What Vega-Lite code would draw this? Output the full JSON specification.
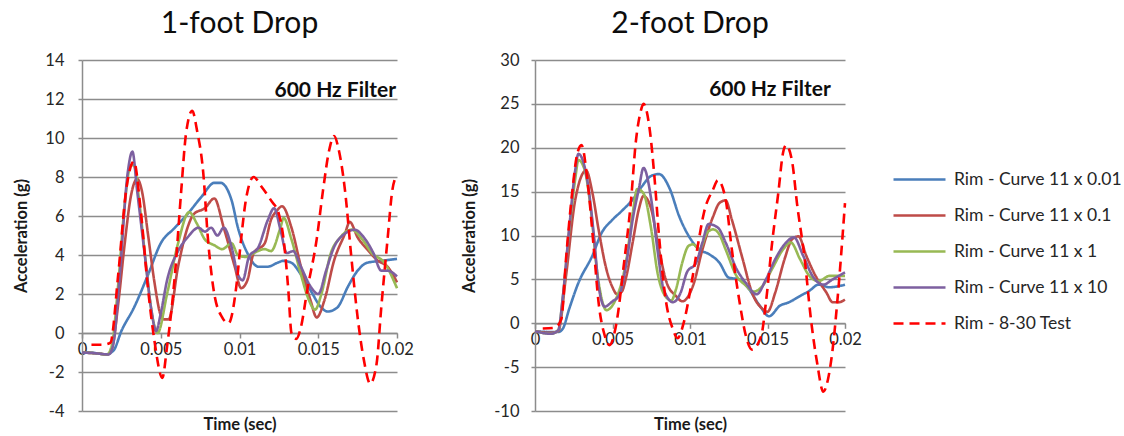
{
  "$schema": "https://vega.github.io/schema/vega-lite/v6.json",
  "background": "white",
  "padding": {"left": 13, "top": 9, "right": 0, "bottom": 0},
  "datasets": {
    "names": [
      {"k": "a", "series": "Rim - Curve 11 x 0.01"},
      {"k": "b", "series": "Rim - Curve 11 x 0.1"},
      {"k": "c", "series": "Rim - Curve 11 x 1"},
      {"k": "d", "series": "Rim - Curve 11 x 10"},
      {"k": "e", "series": "Rim - 8-30 Test"}
    ],
    "curves": [
      {"d":1,"k":"a","t":0,"g":-1.0},{"d":1,"k":"a","t":0.0005,"g":-1.0},{"d":1,"k":"a","t":0.001,"g":-1.05},{"d":1,"k":"a","t":0.0015,"g":-1.1},{"d":1,"k":"a","t":0.002,"g":-0.9},{"d":1,"k":"a","t":0.0025,"g":0.1},{"d":1,"k":"a","t":0.0033,"g":1.3},{"d":1,"k":"a","t":0.0042,"g":3.0},{"d":1,"k":"a","t":0.005,"g":4.6},{"d":1,"k":"a","t":0.0059,"g":5.4},{"d":1,"k":"a","t":0.0067,"g":6.1},{"d":1,"k":"a","t":0.0076,"g":7.0},{"d":1,"k":"a","t":0.0084,"g":7.7},{"d":1,"k":"a","t":0.0088,"g":7.7},{"d":1,"k":"a","t":0.0095,"g":6.8},{"d":1,"k":"a","t":0.0099,"g":5.4},{"d":1,"k":"a","t":0.0105,"g":4.1},{"d":1,"k":"a","t":0.0112,"g":3.4},{"d":1,"k":"a","t":0.0118,"g":3.4},{"d":1,"k":"a","t":0.0124,"g":3.6},{"d":1,"k":"a","t":0.0128,"g":3.7},{"d":1,"k":"a","t":0.0133,"g":3.6},{"d":1,"k":"a","t":0.0139,"g":3.0},{"d":1,"k":"a","t":0.0145,"g":2.2},{"d":1,"k":"a","t":0.0152,"g":1.3},{"d":1,"k":"a","t":0.0156,"g":1.1},{"d":1,"k":"a","t":0.0162,"g":1.3},{"d":1,"k":"a","t":0.0169,"g":2.4},{"d":1,"k":"a","t":0.0175,"g":3.2},{"d":1,"k":"a","t":0.0181,"g":3.6},{"d":1,"k":"a","t":0.019,"g":3.7},{"d":1,"k":"a","t":0.02,"g":3.8},

      {"d":1,"k":"b","t":0,"g":-1.0},{"d":1,"k":"b","t":0.001,"g":-1.05},{"d":1,"k":"b","t":0.0016,"g":-1.1},{"d":1,"k":"b","t":0.0019,"g":-0.8},{"d":1,"k":"b","t":0.0023,"g":1.5},{"d":1,"k":"b","t":0.0027,"g":4.5},{"d":1,"k":"b","t":0.0031,"g":7.0},{"d":1,"k":"b","t":0.0035,"g":7.9},{"d":1,"k":"b","t":0.0038,"g":7.3},{"d":1,"k":"b","t":0.0042,"g":5.0},{"d":1,"k":"b","t":0.0046,"g":2.6},{"d":1,"k":"b","t":0.005,"g":0.9},{"d":1,"k":"b","t":0.0052,"g":0.7},{"d":1,"k":"b","t":0.0055,"g":0.7},{"d":1,"k":"b","t":0.0061,"g":3.4},{"d":1,"k":"b","t":0.0067,"g":5.4},{"d":1,"k":"b","t":0.0071,"g":6.1},{"d":1,"k":"b","t":0.0078,"g":6.4},{"d":1,"k":"b","t":0.0084,"g":6.9},{"d":1,"k":"b","t":0.009,"g":5.4},{"d":1,"k":"b","t":0.0097,"g":3.4},{"d":1,"k":"b","t":0.0101,"g":2.3},{"d":1,"k":"b","t":0.0105,"g":2.7},{"d":1,"k":"b","t":0.0109,"g":4.1},{"d":1,"k":"b","t":0.0116,"g":4.6},{"d":1,"k":"b","t":0.012,"g":5.8},{"d":1,"k":"b","t":0.0124,"g":6.3},{"d":1,"k":"b","t":0.0127,"g":6.5},{"d":1,"k":"b","t":0.0133,"g":5.4},{"d":1,"k":"b","t":0.0139,"g":3.4},{"d":1,"k":"b","t":0.0145,"g":1.7},{"d":1,"k":"b","t":0.0149,"g":0.8},{"d":1,"k":"b","t":0.0154,"g":1.7},{"d":1,"k":"b","t":0.016,"g":3.7},{"d":1,"k":"b","t":0.0167,"g":5.1},{"d":1,"k":"b","t":0.017,"g":5.7},{"d":1,"k":"b","t":0.0175,"g":4.9},{"d":1,"k":"b","t":0.0181,"g":4.3},{"d":1,"k":"b","t":0.0188,"g":3.7},{"d":1,"k":"b","t":0.0194,"g":3.4},{"d":1,"k":"b","t":0.02,"g":2.6},

      {"d":1,"k":"c","t":0,"g":-1.0},{"d":1,"k":"c","t":0.001,"g":-1.05},{"d":1,"k":"c","t":0.0016,"g":-1.1},{"d":1,"k":"c","t":0.0019,"g":-0.6},{"d":1,"k":"c","t":0.0023,"g":2.5},{"d":1,"k":"c","t":0.0027,"g":6.5},{"d":1,"k":"c","t":0.0031,"g":8.6},{"d":1,"k":"c","t":0.0033,"g":8.6},{"d":1,"k":"c","t":0.0036,"g":7.0},{"d":1,"k":"c","t":0.004,"g":4.0},{"d":1,"k":"c","t":0.0044,"g":1.2},{"d":1,"k":"c","t":0.0048,"g":0.0},{"d":1,"k":"c","t":0.0054,"g":2.0},{"d":1,"k":"c","t":0.0061,"g":4.6},{"d":1,"k":"c","t":0.0068,"g":6.2},{"d":1,"k":"c","t":0.0073,"g":5.6},{"d":1,"k":"c","t":0.0078,"g":4.8},{"d":1,"k":"c","t":0.0084,"g":4.5},{"d":1,"k":"c","t":0.0089,"g":4.3},{"d":1,"k":"c","t":0.0095,"g":4.6},{"d":1,"k":"c","t":0.0099,"g":4.0},{"d":1,"k":"c","t":0.0104,"g":3.9},{"d":1,"k":"c","t":0.0109,"g":4.1},{"d":1,"k":"c","t":0.0116,"g":4.3},{"d":1,"k":"c","t":0.012,"g":4.2},{"d":1,"k":"c","t":0.0126,"g":5.4},{"d":1,"k":"c","t":0.0128,"g":5.9},{"d":1,"k":"c","t":0.0133,"g":4.8},{"d":1,"k":"c","t":0.0139,"g":3.0},{"d":1,"k":"c","t":0.0144,"g":1.7},{"d":1,"k":"c","t":0.0148,"g":1.2},{"d":1,"k":"c","t":0.0152,"g":2.0},{"d":1,"k":"c","t":0.0158,"g":4.1},{"d":1,"k":"c","t":0.0164,"g":4.9},{"d":1,"k":"c","t":0.0171,"g":5.3},{"d":1,"k":"c","t":0.0178,"g":4.8},{"d":1,"k":"c","t":0.0184,"g":4.1},{"d":1,"k":"c","t":0.0192,"g":3.6},{"d":1,"k":"c","t":0.02,"g":2.3},

      {"d":1,"k":"d","t":0,"g":-1.0},{"d":1,"k":"d","t":0.001,"g":-1.05},{"d":1,"k":"d","t":0.0017,"g":-1.1},{"d":1,"k":"d","t":0.002,"g":-0.5},{"d":1,"k":"d","t":0.0024,"g":3.0},{"d":1,"k":"d","t":0.0029,"g":8.2},{"d":1,"k":"d","t":0.0032,"g":9.3},{"d":1,"k":"d","t":0.0035,"g":7.3},{"d":1,"k":"d","t":0.004,"g":3.9},{"d":1,"k":"d","t":0.0044,"g":1.2},{"d":1,"k":"d","t":0.0047,"g":0.1},{"d":1,"k":"d","t":0.005,"g":1.0},{"d":1,"k":"d","t":0.0054,"g":2.7},{"d":1,"k":"d","t":0.0061,"g":4.2},{"d":1,"k":"d","t":0.0067,"g":4.9},{"d":1,"k":"d","t":0.0074,"g":5.4},{"d":1,"k":"d","t":0.0078,"g":5.2},{"d":1,"k":"d","t":0.0082,"g":5.4},{"d":1,"k":"d","t":0.0086,"g":5.0},{"d":1,"k":"d","t":0.009,"g":5.4},{"d":1,"k":"d","t":0.0095,"g":4.4},{"d":1,"k":"d","t":0.0099,"g":3.0},{"d":1,"k":"d","t":0.0102,"g":2.7},{"d":1,"k":"d","t":0.0106,"g":3.9},{"d":1,"k":"d","t":0.0112,"g":4.4},{"d":1,"k":"d","t":0.0118,"g":5.8},{"d":1,"k":"d","t":0.0122,"g":6.4},{"d":1,"k":"d","t":0.0126,"g":5.3},{"d":1,"k":"d","t":0.013,"g":4.1},{"d":1,"k":"d","t":0.0134,"g":4.2},{"d":1,"k":"d","t":0.0139,"g":3.4},{"d":1,"k":"d","t":0.0145,"g":2.4},{"d":1,"k":"d","t":0.015,"g":2.0},{"d":1,"k":"d","t":0.0155,"g":3.2},{"d":1,"k":"d","t":0.016,"g":4.4},{"d":1,"k":"d","t":0.0167,"g":5.1},{"d":1,"k":"d","t":0.0173,"g":5.3},{"d":1,"k":"d","t":0.0179,"g":4.9},{"d":1,"k":"d","t":0.0185,"g":4.1},{"d":1,"k":"d","t":0.019,"g":3.2},{"d":1,"k":"d","t":0.0194,"g":3.2},{"d":1,"k":"d","t":0.02,"g":2.9},

      {"d":1,"k":"e","t":0.0006,"g":-0.6},{"d":1,"k":"e","t":0.0013,"g":-0.6},{"d":1,"k":"e","t":0.0018,"g":-0.5},{"d":1,"k":"e","t":0.0023,"g":3.0},{"d":1,"k":"e","t":0.0028,"g":7.3},{"d":1,"k":"e","t":0.0033,"g":8.8},{"d":1,"k":"e","t":0.0037,"g":6.5},{"d":1,"k":"e","t":0.0042,"g":2.2},{"d":1,"k":"e","t":0.0046,"g":-0.4},{"d":1,"k":"e","t":0.0051,"g":-2.3},{"d":1,"k":"e","t":0.0054,"g":-0.7},{"d":1,"k":"e","t":0.0059,"g":3.0},{"d":1,"k":"e","t":0.0063,"g":7.3},{"d":1,"k":"e","t":0.0066,"g":10.2},{"d":1,"k":"e","t":0.007,"g":11.4},{"d":1,"k":"e","t":0.0073,"g":10.4},{"d":1,"k":"e","t":0.0077,"g":8.2},{"d":1,"k":"e","t":0.008,"g":4.8},{"d":1,"k":"e","t":0.0084,"g":2.0},{"d":1,"k":"e","t":0.0089,"g":0.8},{"d":1,"k":"e","t":0.0093,"g":0.5},{"d":1,"k":"e","t":0.0098,"g":2.4},{"d":1,"k":"e","t":0.0101,"g":4.8},{"d":1,"k":"e","t":0.0104,"g":6.8},{"d":1,"k":"e","t":0.0109,"g":8.0},{"d":1,"k":"e","t":0.0114,"g":7.5},{"d":1,"k":"e","t":0.012,"g":6.8},{"d":1,"k":"e","t":0.0125,"g":6.1},{"d":1,"k":"e","t":0.0128,"g":4.8},{"d":1,"k":"e","t":0.0131,"g":2.2},{"d":1,"k":"e","t":0.0133,"g":0.0},{"d":1,"k":"e","t":0.0136,"g":-0.3},{"d":1,"k":"e","t":0.0139,"g":0.3},{"d":1,"k":"e","t":0.0143,"g":2.2},{"d":1,"k":"e","t":0.0149,"g":4.8},{"d":1,"k":"e","t":0.0153,"g":7.3},{"d":1,"k":"e","t":0.0157,"g":9.4},{"d":1,"k":"e","t":0.016,"g":10.1},{"d":1,"k":"e","t":0.0163,"g":9.4},{"d":1,"k":"e","t":0.0167,"g":7.3},{"d":1,"k":"e","t":0.0171,"g":3.9},{"d":1,"k":"e","t":0.0175,"g":0.8},{"d":1,"k":"e","t":0.0179,"g":-1.4},{"d":1,"k":"e","t":0.0183,"g":-2.6},{"d":1,"k":"e","t":0.0187,"g":-1.6},{"d":1,"k":"e","t":0.019,"g":1.3},{"d":1,"k":"e","t":0.0194,"g":4.8},{"d":1,"k":"e","t":0.0197,"g":7.3},{"d":1,"k":"e","t":0.02,"g":8.1},

      {"d":2,"k":"a","t":0,"g":-0.9},{"d":2,"k":"a","t":0.001,"g":-1.0},{"d":2,"k":"a","t":0.0015,"g":-1.0},{"d":2,"k":"a","t":0.0018,"g":-0.6},{"d":2,"k":"a","t":0.0022,"g":1.6},{"d":2,"k":"a","t":0.0028,"g":4.6},{"d":2,"k":"a","t":0.0037,"g":7.7},{"d":2,"k":"a","t":0.0043,"g":10.3},{"d":2,"k":"a","t":0.005,"g":11.8},{"d":2,"k":"a","t":0.0056,"g":12.8},{"d":2,"k":"a","t":0.0063,"g":14.1},{"d":2,"k":"a","t":0.0069,"g":15.6},{"d":2,"k":"a","t":0.0075,"g":16.8},{"d":2,"k":"a","t":0.008,"g":17.0},{"d":2,"k":"a","t":0.0087,"g":15.3},{"d":2,"k":"a","t":0.0093,"g":12.2},{"d":2,"k":"a","t":0.0099,"g":10.0},{"d":2,"k":"a","t":0.0106,"g":8.4},{"d":2,"k":"a","t":0.0112,"g":7.9},{"d":2,"k":"a","t":0.0119,"g":6.9},{"d":2,"k":"a","t":0.0125,"g":5.2},{"d":2,"k":"a","t":0.0132,"g":5.0},{"d":2,"k":"a","t":0.0138,"g":3.9},{"d":2,"k":"a","t":0.0145,"g":2.0},{"d":2,"k":"a","t":0.0151,"g":0.8},{"d":2,"k":"a","t":0.0158,"g":2.0},{"d":2,"k":"a","t":0.0164,"g":2.4},{"d":2,"k":"a","t":0.0171,"g":3.1},{"d":2,"k":"a","t":0.0177,"g":3.7},{"d":2,"k":"a","t":0.0183,"g":4.4},{"d":2,"k":"a","t":0.019,"g":4.1},{"d":2,"k":"a","t":0.02,"g":4.4},

      {"d":2,"k":"b","t":0,"g":-0.9},{"d":2,"k":"b","t":0.001,"g":-1.1},{"d":2,"k":"b","t":0.0015,"g":-0.9},{"d":2,"k":"b","t":0.002,"g":5.4},{"d":2,"k":"b","t":0.0026,"g":14.1},{"d":2,"k":"b","t":0.0033,"g":17.4},{"d":2,"k":"b","t":0.0037,"g":14.9},{"d":2,"k":"b","t":0.0041,"g":10.7},{"d":2,"k":"b","t":0.0046,"g":6.2},{"d":2,"k":"b","t":0.005,"g":4.1},{"d":2,"k":"b","t":0.0053,"g":3.3},{"d":2,"k":"b","t":0.0056,"g":3.6},{"d":2,"k":"b","t":0.0059,"g":5.4},{"d":2,"k":"b","t":0.0063,"g":9.2},{"d":2,"k":"b","t":0.0067,"g":13.0},{"d":2,"k":"b","t":0.007,"g":14.5},{"d":2,"k":"b","t":0.0075,"g":13.0},{"d":2,"k":"b","t":0.008,"g":8.4},{"d":2,"k":"b","t":0.0085,"g":4.6},{"d":2,"k":"b","t":0.0091,"g":3.1},{"d":2,"k":"b","t":0.0095,"g":2.5},{"d":2,"k":"b","t":0.0102,"g":4.3},{"d":2,"k":"b","t":0.0108,"g":8.4},{"d":2,"k":"b","t":0.0115,"g":12.2},{"d":2,"k":"b","t":0.0119,"g":13.7},{"d":2,"k":"b","t":0.0123,"g":14.0},{"d":2,"k":"b","t":0.0127,"g":11.8},{"d":2,"k":"b","t":0.0134,"g":7.3},{"d":2,"k":"b","t":0.014,"g":3.5},{"d":2,"k":"b","t":0.0147,"g":1.6},{"d":2,"k":"b","t":0.015,"g":1.3},{"d":2,"k":"b","t":0.0155,"g":3.5},{"d":2,"k":"b","t":0.0161,"g":7.3},{"d":2,"k":"b","t":0.0166,"g":9.6},{"d":2,"k":"b","t":0.017,"g":9.9},{"d":2,"k":"b","t":0.0175,"g":7.7},{"d":2,"k":"b","t":0.0181,"g":5.4},{"d":2,"k":"b","t":0.0188,"g":3.5},{"d":2,"k":"b","t":0.0192,"g":2.4},{"d":2,"k":"b","t":0.0196,"g":2.4},{"d":2,"k":"b","t":0.02,"g":2.7},

      {"d":2,"k":"c","t":0,"g":-0.9},{"d":2,"k":"c","t":0.001,"g":-1.2},{"d":2,"k":"c","t":0.0015,"g":-0.8},{"d":2,"k":"c","t":0.0018,"g":3.0},{"d":2,"k":"c","t":0.0022,"g":10.5},{"d":2,"k":"c","t":0.0026,"g":16.5},{"d":2,"k":"c","t":0.0028,"g":18.6},{"d":2,"k":"c","t":0.0032,"g":17.5},{"d":2,"k":"c","t":0.0036,"g":13.0},{"d":2,"k":"c","t":0.004,"g":6.0},{"d":2,"k":"c","t":0.0043,"g":2.8},{"d":2,"k":"c","t":0.0046,"g":1.5},{"d":2,"k":"c","t":0.0052,"g":2.7},{"d":2,"k":"c","t":0.0059,"g":7.3},{"d":2,"k":"c","t":0.0063,"g":12.5},{"d":2,"k":"c","t":0.0066,"g":15.3},{"d":2,"k":"c","t":0.007,"g":14.8},{"d":2,"k":"c","t":0.0075,"g":10.7},{"d":2,"k":"c","t":0.0079,"g":5.8},{"d":2,"k":"c","t":0.0084,"g":3.1},{"d":2,"k":"c","t":0.0088,"g":2.6},{"d":2,"k":"c","t":0.0091,"g":3.9},{"d":2,"k":"c","t":0.0095,"g":6.9},{"d":2,"k":"c","t":0.0099,"g":8.8},{"d":2,"k":"c","t":0.0102,"g":9.0},{"d":2,"k":"c","t":0.0106,"g":8.4},{"d":2,"k":"c","t":0.0111,"g":10.3},{"d":2,"k":"c","t":0.0115,"g":10.7},{"d":2,"k":"c","t":0.0119,"g":10.1},{"d":2,"k":"c","t":0.0123,"g":8.4},{"d":2,"k":"c","t":0.013,"g":5.4},{"d":2,"k":"c","t":0.0136,"g":4.3},{"d":2,"k":"c","t":0.0141,"g":3.6},{"d":2,"k":"c","t":0.0147,"g":4.3},{"d":2,"k":"c","t":0.0153,"g":6.2},{"d":2,"k":"c","t":0.016,"g":8.4},{"d":2,"k":"c","t":0.0165,"g":9.2},{"d":2,"k":"c","t":0.0171,"g":7.3},{"d":2,"k":"c","t":0.0177,"g":5.4},{"d":2,"k":"c","t":0.0183,"g":4.8},{"d":2,"k":"c","t":0.019,"g":5.4},{"d":2,"k":"c","t":0.02,"g":5.4},

      {"d":2,"k":"d","t":0,"g":-0.9},{"d":2,"k":"d","t":0.001,"g":-1.2},{"d":2,"k":"d","t":0.0015,"g":-0.8},{"d":2,"k":"d","t":0.0018,"g":3.1},{"d":2,"k":"d","t":0.0022,"g":10.7},{"d":2,"k":"d","t":0.0026,"g":17.5},{"d":2,"k":"d","t":0.0028,"g":19.3},{"d":2,"k":"d","t":0.0034,"g":16.0},{"d":2,"k":"d","t":0.0038,"g":10.0},{"d":2,"k":"d","t":0.0041,"g":4.3},{"d":2,"k":"d","t":0.0045,"g":1.9},{"d":2,"k":"d","t":0.005,"g":2.5},{"d":2,"k":"d","t":0.0054,"g":3.1},{"d":2,"k":"d","t":0.0059,"g":6.9},{"d":2,"k":"d","t":0.0063,"g":11.8},{"d":2,"k":"d","t":0.0067,"g":15.3},{"d":2,"k":"d","t":0.007,"g":17.7},{"d":2,"k":"d","t":0.0075,"g":14.1},{"d":2,"k":"d","t":0.0079,"g":8.4},{"d":2,"k":"d","t":0.0083,"g":3.9},{"d":2,"k":"d","t":0.0089,"g":2.4},{"d":2,"k":"d","t":0.0094,"g":3.5},{"d":2,"k":"d","t":0.0098,"g":5.8},{"d":2,"k":"d","t":0.0104,"g":6.9},{"d":2,"k":"d","t":0.0108,"g":9.2},{"d":2,"k":"d","t":0.0112,"g":11.3},{"d":2,"k":"d","t":0.0118,"g":10.9},{"d":2,"k":"d","t":0.0123,"g":9.2},{"d":2,"k":"d","t":0.013,"g":6.2},{"d":2,"k":"d","t":0.0136,"g":4.6},{"d":2,"k":"d","t":0.0143,"g":3.3},{"d":2,"k":"d","t":0.0149,"g":5.0},{"d":2,"k":"d","t":0.0155,"g":7.3},{"d":2,"k":"d","t":0.0162,"g":9.2},{"d":2,"k":"d","t":0.0167,"g":9.8},{"d":2,"k":"d","t":0.0173,"g":7.7},{"d":2,"k":"d","t":0.0179,"g":5.4},{"d":2,"k":"d","t":0.0186,"g":4.4},{"d":2,"k":"d","t":0.0192,"g":5.0},{"d":2,"k":"d","t":0.02,"g":5.8},

      {"d":2,"k":"e","t":0.0005,"g":-0.6},{"d":2,"k":"e","t":0.0013,"g":-0.5},{"d":2,"k":"e","t":0.0017,"g":0.5},{"d":2,"k":"e","t":0.002,"g":7.3},{"d":2,"k":"e","t":0.0024,"g":14.9},{"d":2,"k":"e","t":0.0027,"g":19.1},{"d":2,"k":"e","t":0.003,"g":20.3},{"d":2,"k":"e","t":0.0034,"g":16.0},{"d":2,"k":"e","t":0.0038,"g":8.4},{"d":2,"k":"e","t":0.0041,"g":2.4},{"d":2,"k":"e","t":0.0045,"g":-1.4},{"d":2,"k":"e","t":0.0048,"g":-2.5},{"d":2,"k":"e","t":0.0053,"g":0.5},{"d":2,"k":"e","t":0.0057,"g":6.2},{"d":2,"k":"e","t":0.0062,"g":14.1},{"d":2,"k":"e","t":0.0065,"g":20.6},{"d":2,"k":"e","t":0.0068,"g":24.0},{"d":2,"k":"e","t":0.007,"g":25.0},{"d":2,"k":"e","t":0.0074,"g":22.1},{"d":2,"k":"e","t":0.0077,"g":16.8},{"d":2,"k":"e","t":0.008,"g":10.0},{"d":2,"k":"e","t":0.0084,"g":3.1},{"d":2,"k":"e","t":0.0089,"g":-0.7},{"d":2,"k":"e","t":0.0092,"g":-1.7},{"d":2,"k":"e","t":0.0096,"g":0.1},{"d":2,"k":"e","t":0.0101,"g":4.6},{"d":2,"k":"e","t":0.0105,"g":8.8},{"d":2,"k":"e","t":0.0109,"g":12.6},{"d":2,"k":"e","t":0.0115,"g":15.3},{"d":2,"k":"e","t":0.0118,"g":16.3},{"d":2,"k":"e","t":0.0123,"g":14.1},{"d":2,"k":"e","t":0.0127,"g":8.4},{"d":2,"k":"e","t":0.0132,"g":2.4},{"d":2,"k":"e","t":0.0136,"g":-1.4},{"d":2,"k":"e","t":0.014,"g":-3.0},{"d":2,"k":"e","t":0.0146,"g":-1.4},{"d":2,"k":"e","t":0.0149,"g":2.4},{"d":2,"k":"e","t":0.0153,"g":9.2},{"d":2,"k":"e","t":0.0157,"g":14.9},{"d":2,"k":"e","t":0.016,"g":19.4},{"d":2,"k":"e","t":0.0162,"g":20.3},{"d":2,"k":"e","t":0.0166,"g":18.3},{"d":2,"k":"e","t":0.0169,"g":13.7},{"d":2,"k":"e","t":0.0174,"g":7.3},{"d":2,"k":"e","t":0.0178,"g":0.5},{"d":2,"k":"e","t":0.0182,"g":-4.5},{"d":2,"k":"e","t":0.0186,"g":-7.8},{"d":2,"k":"e","t":0.0189,"g":-6.4},{"d":2,"k":"e","t":0.0192,"g":-3.0},{"d":2,"k":"e","t":0.0195,"g":2.4},{"d":2,"k":"e","t":0.02,"g":13.7}
    ]
  },
  "config": {
    "font": "Lato",
    "view": {"stroke": null},
    "axis": {
      "labelFont": "Lato",
      "labelFontSize": 16.5,
      "labelColor": "#262626",
      "labelOverlap": false,
      "labelExpr": "datum.value < 0 ? '-' + format(-datum.value, '~g') : format(datum.value, '~g')",
      "titleFont": "Lato",
      "titleFontSize": 16.5,
      "titleFontWeight": "bold",
      "titleColor": "#1a1a1a",
      "domainColor": "#8c8c8c",
      "domainWidth": 1.5,
      "tickColor": "#8c8c8c",
      "tickWidth": 1.5,
      "tickSize": 4,
      "gridColor": "#8c8c8c",
      "gridWidth": 1.5
    },
    "legend": {
      "labelFont": "Lato",
      "labelFontSize": 17.5,
      "labelColor": "#262626",
      "labelLimit": 0,
      "symbolType": "stroke",
      "symbolStrokeWidth": 2.5,
      "symbolSize": 2704,
      "labelOffset": 7,
      "rowPadding": -5,
      "padding": 0
    },
    "title": {"font": "Lato", "fontSize": 30, "fontWeight": "normal", "color": "#0d0d0d", "anchor": "middle", "offset": 13}
  },
  "resolve": {
    "scale": {"x": "independent", "y": "independent", "color": "shared", "strokeDash": "shared"},
    "legend": {"color": "shared", "strokeDash": "shared"}
  },
  "spacing": 47,
  "hconcat": [
    {
      "width": 315,
      "height": 351,
      "title": "1-foot Drop",
      "layer": [
        {
          "data": {"name": "curves"},
          "transform": [
            {"filter": "datum.d == 1"},
            {"lookup": "k", "from": {"data": {"name": "names"}, "key": "k", "fields": ["series"]}}
          ],
          "mark": {"type": "line", "interpolate": "monotone", "strokeWidth": 2.6},
          "encoding": {
            "x": {
              "field": "t", "type": "quantitative",
              "scale": {"domain": [0, 0.02], "nice": false, "zero": false},
              "axis": {"title": "Time (sec)", "values": [0, 0.005, 0.01, 0.015, 0.02], "tickCount": 10, "grid": false, "labelFlush": false, "offset": -78, "tickSize": 5, "labelPadding": 3, "titlePadding": 59}
            },
            "y": {
              "field": "g", "type": "quantitative",
              "scale": {"domain": [-4, 14], "nice": false, "zero": false},
              "axis": {"title": "Acceleration (g)", "values": [-4, -2, 0, 2, 4, 6, 8, 10, 12, 14], "tickCount": 20, "labelPadding": 14, "titlePadding": 15}
            },
            "color": {
              "field": "series", "type": "nominal",
              "scale": {"domain": ["Rim - Curve 11 x 0.01", "Rim - Curve 11 x 0.1", "Rim - Curve 11 x 1", "Rim - Curve 11 x 10", "Rim - 8-30 Test"], "range": ["#4A7EBB", "#BE4B48", "#98B954", "#7D60A0", "#FF0000"]},
              "legend": {"title": null, "orient": "none", "legendX": 810, "legendY": 92}
            },
            "strokeDash": {
              "field": "series", "type": "nominal",
              "scale": {"domain": ["Rim - Curve 11 x 0.01", "Rim - Curve 11 x 0.1", "Rim - Curve 11 x 1", "Rim - Curve 11 x 10", "Rim - 8-30 Test"], "range": [[1, 0], [1, 0], [1, 0], [1, 0], [10, 6]]},
              "legend": {"title": null, "orient": "none", "legendX": 810, "legendY": 92}
            }
          }
        },
        {
          "data": {"values": [{"t": 0.01994, "g": 12.08, "label": "600 Hz Filter"}]},
          "mark": {"type": "text", "align": "right", "baseline": "alphabetic", "fontWeight": "bold", "fontSize": 21, "font": "Lato", "color": "#0d0d0d"},
          "encoding": {
            "x": {"field": "t", "type": "quantitative"},
            "y": {"field": "g", "type": "quantitative"},
            "text": {"field": "label"}
          }
        }
      ]
    },
    {
      "width": 310,
      "height": 351,
      "title": "2-foot Drop",
      "layer": [
        {
          "data": {"name": "curves"},
          "transform": [
            {"filter": "datum.d == 2"},
            {"lookup": "k", "from": {"data": {"name": "names"}, "key": "k", "fields": ["series"]}}
          ],
          "mark": {"type": "line", "interpolate": "monotone", "strokeWidth": 2.6},
          "encoding": {
            "x": {
              "field": "t", "type": "quantitative",
              "scale": {"domain": [0, 0.02], "nice": false, "zero": false},
              "axis": {"title": "Time (sec)", "values": [0, 0.005, 0.01, 0.015, 0.02], "tickCount": 10, "grid": false, "labelFlush": false, "offset": -87.7, "tickSize": 5, "labelPadding": 3, "titlePadding": 69}
            },
            "y": {
              "field": "g", "type": "quantitative",
              "scale": {"domain": [-10, 30], "nice": false, "zero": false},
              "axis": {"title": "Acceleration (g)", "values": [-10, -5, 0, 5, 10, 15, 20, 25, 30], "tickCount": 20, "labelPadding": 12, "titlePadding": 16}
            },
            "color": {
              "field": "series", "type": "nominal",
              "scale": {"domain": ["Rim - Curve 11 x 0.01", "Rim - Curve 11 x 0.1", "Rim - Curve 11 x 1", "Rim - Curve 11 x 10", "Rim - 8-30 Test"], "range": ["#4A7EBB", "#BE4B48", "#98B954", "#7D60A0", "#FF0000"]},
              "legend": {"title": null, "orient": "none", "legendX": 810, "legendY": 92}
            },
            "strokeDash": {
              "field": "series", "type": "nominal",
              "scale": {"domain": ["Rim - Curve 11 x 0.01", "Rim - Curve 11 x 0.1", "Rim - Curve 11 x 1", "Rim - Curve 11 x 10", "Rim - 8-30 Test"], "range": [[1, 0], [1, 0], [1, 0], [1, 0], [10, 6]]},
              "legend": {"title": null, "orient": "none", "legendX": 810, "legendY": 92}
            }
          }
        },
        {
          "data": {"values": [{"t": 0.01908, "g": 25.9, "label": "600 Hz Filter"}]},
          "mark": {"type": "text", "align": "right", "baseline": "alphabetic", "fontWeight": "bold", "fontSize": 21, "font": "Lato", "color": "#0d0d0d"},
          "encoding": {
            "x": {"field": "t", "type": "quantitative"},
            "y": {"field": "g", "type": "quantitative"},
            "text": {"field": "label"}
          }
        }
      ]
    }
  ]
}
